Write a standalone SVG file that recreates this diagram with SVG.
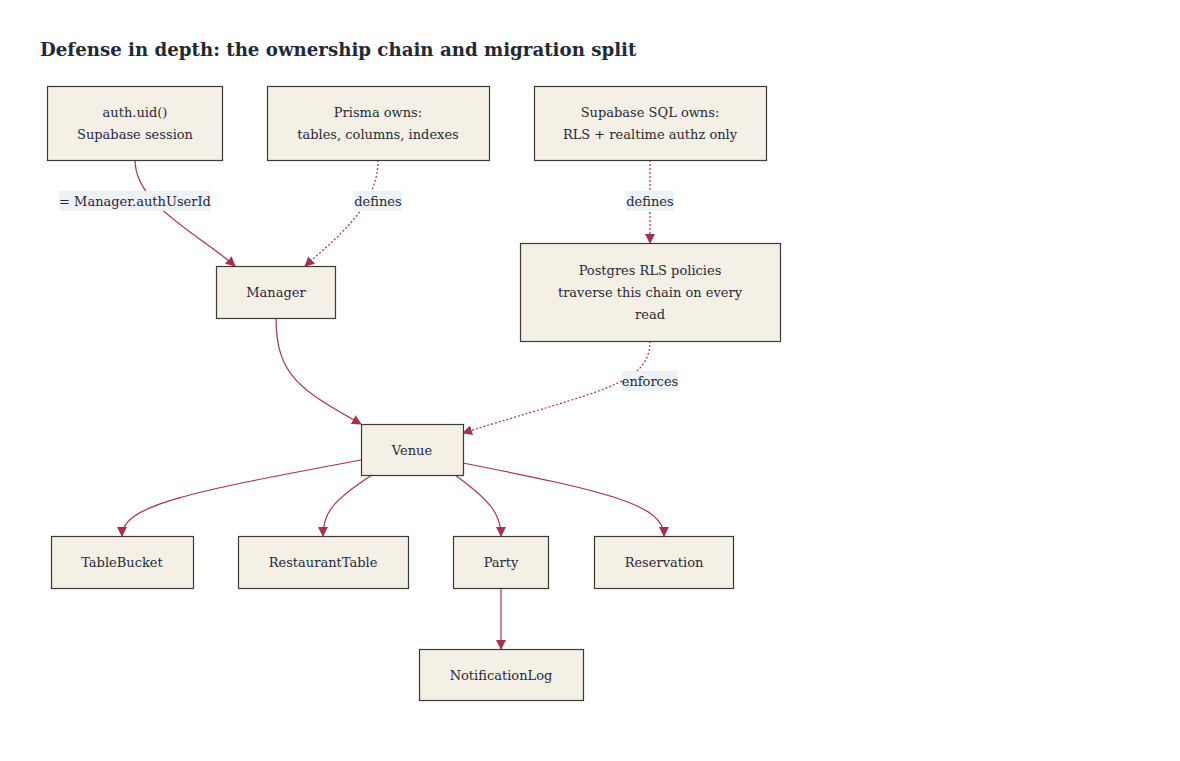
<svg xmlns="http://www.w3.org/2000/svg" width="1180" height="761" viewBox="0 0 1180 761">
<defs>
<style>
.node rect{fill:#f5f0e6;stroke:#3a3a3a;stroke-width:1.2}
.t{font-family:"DejaVu Serif","Liberation Serif",serif;font-size:13px;fill:#1f2937;text-anchor:middle}
.title{font-family:"DejaVu Serif","Liberation Serif",serif;font-size:18.2px;font-weight:bold;fill:#1f2937}
.e{fill:none;stroke:#a3324a;stroke-width:1.2}
.d{stroke-dasharray:2 2}
.lb{fill:#eef1f6}
</style>
<marker id="ah" viewBox="0 0 10 10" refX="9" refY="5" markerWidth="10" markerHeight="10" markerUnits="userSpaceOnUse" orient="auto">
<path d="M0,0 L10,5 L0,10 z" fill="#a3324a"/>
</marker>
</defs>
<rect width="1180" height="761" fill="#ffffff"/>
<text class="title" x="40" y="56">Defense in depth: the ownership chain and migration split</text>
<g id="connectors">
<path class="e" d="M135,160 C135,205 200,235 235,266" marker-end="url(#ah)"/>
<path class="e d" d="M378,160 C378,205 340,235 305,266" marker-end="url(#ah)"/>
<path class="e d" d="M650,160 L650,243" marker-end="url(#ah)"/>
<path class="e d" d="M650,341 C650,385 600,390 463,433" marker-end="url(#ah)"/>
<path class="e" d="M276,318 C276,375 300,390 361,424" marker-end="url(#ah)"/>
<path class="e" d="M361,460 C190,492 122,505 122,536" marker-end="url(#ah)"/>
<path class="e" d="M372,475 C330,502 323,515 323,536" marker-end="url(#ah)"/>
<path class="e" d="M455,475 C492,502 501,515 501,536" marker-end="url(#ah)"/>
<path class="e" d="M463,463 C610,492 664,505 664,536" marker-end="url(#ah)"/>
<path class="e" d="M501,588 L501,649" marker-end="url(#ah)"/>
<g id="edge-labels">
<rect class="lb" x="59" y="191" width="152" height="20"/>
<text class="t" x="135" y="206">= Manager.authUserId</text>
<rect class="lb" x="354" y="191" width="48" height="20"/>
<text class="t" x="378" y="206">defines</text>
<rect class="lb" x="626" y="191" width="48" height="20"/>
<text class="t" x="650" y="206">defines</text>
<rect class="lb" x="622" y="371" width="56" height="20"/>
<text class="t" x="650" y="386">enforces</text>
</g>
</g>
<g id="auth" class="node"><rect x="47.5" y="86.5" width="175" height="74"/><text class="t" x="135" y="117">auth.uid()</text><text class="t" x="135" y="139">Supabase session</text></g>
<g id="prisma" class="node"><rect x="267.5" y="86.5" width="222" height="74"/><text class="t" x="378" y="117">Prisma owns:</text><text class="t" x="378" y="139">tables, columns, indexes</text></g>
<g id="supabase-sql" class="node"><rect x="534.5" y="86.5" width="232" height="74"/><text class="t" x="650" y="117">Supabase SQL owns:</text><text class="t" x="650" y="139">RLS + realtime authz only</text></g>
<g id="rls" class="node"><rect x="520.5" y="243.5" width="260" height="98"/><text class="t" x="650" y="275">Postgres RLS policies</text><text class="t" x="650" y="297">traverse this chain on every</text><text class="t" x="650" y="319">read</text></g>
<g id="manager" class="node"><rect x="216.5" y="266.5" width="119" height="52"/><text class="t" x="276" y="297">Manager</text></g>
<g id="venue" class="node"><rect x="361.5" y="424.5" width="102" height="51"/><text class="t" x="412" y="455">Venue</text></g>
<g id="tablebucket" class="node"><rect x="51.5" y="536.5" width="142" height="52"/><text class="t" x="122" y="567">TableBucket</text></g>
<g id="restauranttable" class="node"><rect x="238.5" y="536.5" width="170" height="52"/><text class="t" x="323" y="567">RestaurantTable</text></g>
<g id="party" class="node"><rect x="453.5" y="536.5" width="95" height="52"/><text class="t" x="501" y="567">Party</text></g>
<g id="reservation" class="node"><rect x="594.5" y="536.5" width="139" height="52"/><text class="t" x="664" y="567">Reservation</text></g>
<g id="notificationlog" class="node"><rect x="419.5" y="649.5" width="164" height="51"/><text class="t" x="501" y="680">NotificationLog</text></g>
</svg>
